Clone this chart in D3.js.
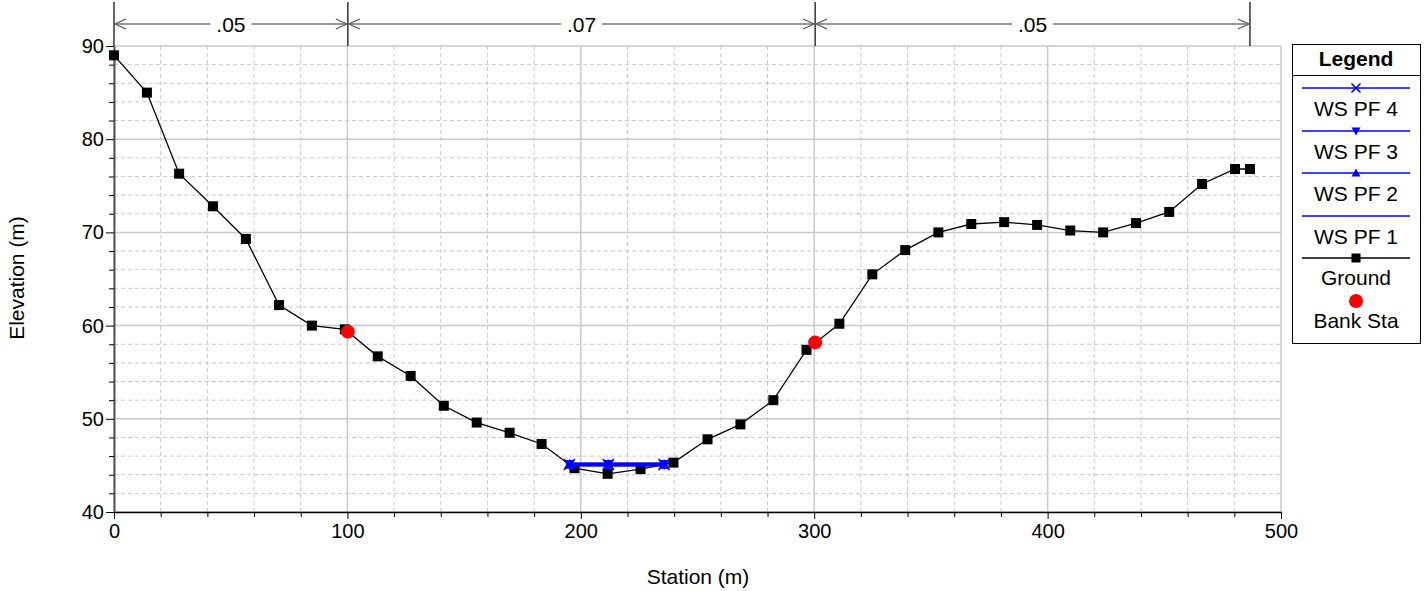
<!DOCTYPE html>
<html><head><meta charset="utf-8">
<script src="https://cdn.jsdelivr.net/npm/d3@7"></script>
<style>body{margin:0;background:#fff;} text{font-family:"Liberation Sans",Arial,sans-serif;}</style>
</head><body>
<svg id="chart" width="1428" height="591"></svg>
<script>
const groundStation = [0, 14.1, 27.9, 42.4, 56.5, 70.7, 84.8, 98.9, 113.0, 127.1, 141.3, 155.4, 169.5, 183.2, 197.3, 211.5, 225.6, 239.7, 254.3, 268.4, 282.5, 296.7, 310.8, 324.9, 339.0, 353.2, 367.3, 381.4, 395.5, 409.7, 423.8, 437.9, 452.1, 466.2, 480.3, 486.7];
const groundElev = [89.0, 85.0, 76.3, 72.8, 69.3, 62.2, 60.0, 59.6, 56.7, 54.6, 51.4, 49.6, 48.5, 47.3, 44.7, 44.1, 44.6, 45.3, 47.8, 49.4, 52.0, 57.4, 60.2, 65.5, 68.1, 70.0, 70.9, 71.1, 70.8, 70.2, 70.0, 71.0, 72.2, 75.2, 76.8, 76.8];
const bankStation = [100.2, 300.4];
const bankElev = [59.35, 58.2];
const wsStation = [195.1, 211.8, 235.7];
const wsNames = ["WS PF 4", "WS PF 3", "WS PF 2", "WS PF 1"];
const wsElev = [45.1, 45.1, 45.1, 45.1];
const nValues = [".05", ".07", ".05"];
const nBreaks = [0, 100.2, 300.4, 486.7];
const xTicks = [0, 100, 200, 300, 400, 500];
const yTicks = [40, 50, 60, 70, 80, 90];

const FONT = "Liberation Sans, Arial, sans-serif";
const svg = d3.select("#chart");
const x = d3.scaleLinear().domain([0, 500]).range([114, 1281]);
const y = d3.scaleLinear().domain([40, 90]).range([512, 46]);

// grid
const g = svg.append("g");
d3.range(0, 501, 20).forEach(v => {
  const major = v % 100 === 0;
  g.append("line").attr("x1", x(v)).attr("x2", x(v)).attr("y1", y(40)).attr("y2", y(90))
    .attr("stroke", "#c8c8c8").attr("stroke-width", major ? 1.5 : 1)
    .attr("stroke-dasharray", major ? null : "4,3");
});
d3.range(40, 91, 2).forEach(v => {
  const major = v % 10 === 0;
  g.append("line").attr("x1", x(0)).attr("x2", x(500)).attr("y1", y(v)).attr("y2", y(v))
    .attr("stroke", "#c8c8c8").attr("stroke-width", major ? 1.5 : 1)
    .attr("stroke-dasharray", major ? null : "4,3");
});

// axes
const xAxis = svg.append("g").attr("transform", `translate(0,${y(40)})`)
  .call(d3.axisBottom(x).tickValues(xTicks).tickSize(7).tickSizeOuter(0).tickPadding(5));
xAxis.select(".domain").attr("stroke", "#000").attr("stroke-width", 1.5);
xAxis.selectAll("text").attr("font-size", 20).attr("fill", "#000").style("font-family", FONT);
svg.append("g").attr("transform", `translate(0,${y(40)})`)
  .call(d3.axisBottom(x).tickValues(d3.range(20, 500, 20).filter(v => v % 100)).tickSize(5).tickFormat(""))
  .call(s => s.select(".domain").remove());

const yAxis = svg.append("g").attr("transform", `translate(${x(0)},0)`)
  .call(d3.axisLeft(y).tickValues(yTicks).tickSize(8).tickSizeOuter(0).tickPadding(2));
yAxis.select(".domain").attr("stroke", "#555").attr("stroke-width", 2);
yAxis.selectAll("text").attr("font-size", 20).attr("fill", "#000").style("font-family", FONT);
svg.append("g").attr("transform", `translate(${x(0)},0)`)
  .call(d3.axisLeft(y).tickValues(d3.range(42, 90, 2).filter(v => v % 10)).tickSize(5).tickFormat(""))
  .call(s => s.select(".domain").remove());

svg.append("text").attr("x", 698).attr("y", 584).attr("text-anchor", "middle").attr("font-size", 21).text("Station (m)");
svg.append("text").attr("transform", "translate(24,278) rotate(-90)").attr("text-anchor", "middle").attr("font-size", 21).text("Elevation (m)");

// n-value annotations
const ay = 24;
const ann = svg.append("g");
nBreaks.forEach(b => {
  ann.append("line").attr("x1", x(b)).attr("x2", x(b)).attr("y1", 2).attr("y2", y(90)).attr("stroke", "#000").attr("stroke-width", 1.2);
});
nValues.forEach((n, i) => {
  const x0 = x(nBreaks[i]), x1 = x(nBreaks[i + 1]);
  const cx = (x0 + x1) / 2;
  const gg = ann.append("g");
  gg.append("line").attr("x1", x0).attr("x2", x1).attr("y1", ay).attr("y2", ay).attr("stroke", "#777").attr("stroke-width", 1.5);
  gg.append("path").attr("d", `M${x0 + 12},${ay - 5} L${x0 + 1},${ay} L${x0 + 12},${ay + 5}`).attr("fill", "none").attr("stroke", "#555").attr("stroke-width", 1.2);
  gg.append("path").attr("d", `M${x1 - 12},${ay - 5} L${x1 - 1},${ay} L${x1 - 12},${ay + 5}`).attr("fill", "none").attr("stroke", "#555").attr("stroke-width", 1.2);
  const bg = gg.append("rect").attr("fill", "#fff");
  const t = gg.append("text").attr("x", cx).attr("y", ay + 8).attr("text-anchor", "middle").attr("font-size", 21).text(n);
  const bb = t.node().getBBox();
  bg.attr("x", bb.x - 6).attr("y", ay - 4).attr("width", bb.width + 12).attr("height", 8);
});

// ground
const line = d3.line().x(d => x(d[0])).y(d => y(d[1]));
const ground = groundStation.map((s, i) => [s, groundElev[i]]);
svg.append("path").datum(ground).attr("d", line).attr("fill", "none").attr("stroke", "#000").attr("stroke-width", 1.3);
svg.selectAll(".gsq").data(ground).join("rect").attr("x", d => x(d[0]) - 5).attr("y", d => y(d[1]) - 5)
  .attr("width", 10).attr("height", 10).attr("fill", "#000");

// water surfaces
const blue = "#0000ff";
wsNames.forEach((nm, k) => {
  const pts = wsStation.map(s => [s, wsElev[k]]);
  svg.append("path").datum([pts[0], pts[pts.length - 1]]).attr("d", line).attr("fill", "none").attr("stroke", blue).attr("stroke-width", 3.5);
});
function marker(sel, type, cx, cy, s) {
  if (type === 0) {
    sel.append("path").attr("d", `M${cx - s},${cy - s}L${cx + s},${cy + s}M${cx - s},${cy + s}L${cx + s},${cy - s}`).attr("stroke", blue).attr("stroke-width", 1.6);
  } else if (type === 1) {
    sel.append("path").attr("d", `M${cx - s},${cy - s * 0.8}L${cx + s},${cy - s * 0.8}L${cx},${cy + s}Z`).attr("fill", blue);
  } else if (type === 2) {
    sel.append("path").attr("d", `M${cx - s},${cy + s * 0.8}L${cx + s},${cy + s * 0.8}L${cx},${cy - s}Z`).attr("fill", blue);
  }
}
[0, 1, 2].forEach(k => wsStation.forEach(s => marker(svg, k, x(s), y(wsElev[k]), 5.5)));

// bank stations
svg.selectAll(".bank").data(bankStation).join("circle").attr("cx", d => x(d)).attr("cy", (d, i) => y(bankElev[i]))
  .attr("r", 7).attr("fill", "#ff0000");

// legend
const L = svg.append("g");
L.append("rect").attr("x", 1292.5).attr("y", 44.5).attr("width", 128).attr("height", 299).attr("fill", "#fff").attr("stroke", "#000").attr("stroke-width", 1);
L.append("line").attr("x1", 1292.5).attr("x2", 1420.5).attr("y1", 75.5).attr("y2", 75.5).attr("stroke", "#000");
L.append("text").attr("x", 1356).attr("y", 66).attr("text-anchor", "middle").attr("font-size", 21).attr("font-weight", "bold").text("Legend");
const ly = [88, 131, 173, 216];
wsNames.forEach((nm, k) => {
  L.append("line").attr("x1", 1302).attr("x2", 1410).attr("y1", ly[k]).attr("y2", ly[k]).attr("stroke", blue).attr("stroke-width", 1.3);
  marker(L, k, 1356, ly[k], 4.5);
  L.append("text").attr("x", 1356).attr("y", ly[k] + 28).attr("text-anchor", "middle").attr("font-size", 21).text(nm);
});
L.append("line").attr("x1", 1302).attr("x2", 1410).attr("y1", 258).attr("y2", 258).attr("stroke", "#000").attr("stroke-width", 1.3);
L.append("rect").attr("x", 1351.5).attr("y", 253.5).attr("width", 9).attr("height", 9).attr("fill", "#000");
L.append("text").attr("x", 1356).attr("y", 285).attr("text-anchor", "middle").attr("font-size", 21).text("Ground");
L.append("circle").attr("cx", 1356).attr("cy", 301).attr("r", 7).attr("fill", "#ff0000");
L.append("text").attr("x", 1356).attr("y", 328).attr("text-anchor", "middle").attr("font-size", 21).text("Bank Sta");
</script>
</body></html>
